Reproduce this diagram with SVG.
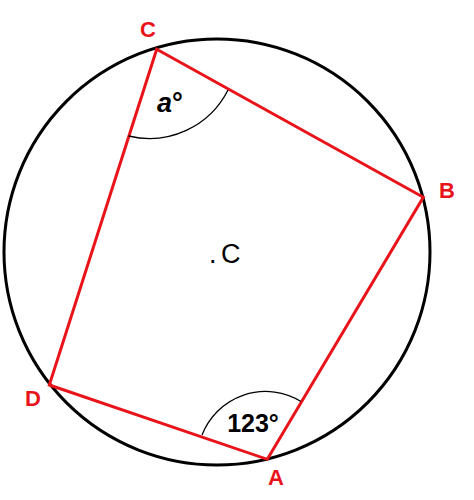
<svg xmlns="http://www.w3.org/2000/svg" width="474" height="500" viewBox="0 0 474 500">
<style>
.circ{fill:none;stroke:#000;stroke-width:3}
.quad{fill:none;stroke:#e8141a;stroke-width:3;stroke-linejoin:miter}
.arc{fill:none;stroke:#000;stroke-width:1.3}
.lbl{font-family:"Liberation Sans",Arial,sans-serif;font-weight:bold;font-size:22px;fill:#e8141a;text-anchor:middle}
.ang{font-family:"Liberation Sans",Arial,sans-serif;font-weight:bold;fill:#000}
.ctr{font-family:"Liberation Sans",Arial,sans-serif;font-size:27px;fill:#000}
</style>
<rect width="474" height="500" fill="#fff"/>
<g id="circle"><circle class="circ" cx="217" cy="252" r="213"/></g>
<g id="connectors">
<polygon class="quad" points="156.7,49.3 423.3,197.3 267.3,459.3 49.3,385"/>
<path class="arc" d="M128.5,136 A88,88 0 0 0 228,90"/>
<path class="arc" d="M202,435 A68,68 0 0 1 301,401.5"/>
</g>
<g id="C"><text class="lbl" x="148" y="37">C</text></g>
<g id="B"><text class="lbl" x="447" y="198">B</text></g>
<g id="A"><text class="lbl" x="276" y="485">A</text></g>
<g id="D"><text class="lbl" x="33" y="406">D</text></g>
<g id="angleC"><text class="ang" x="157" y="112" font-size="27"><tspan font-style="italic">a</tspan>°</text></g>
<g id="angleA"><text class="ang" x="253" y="432" font-size="25" text-anchor="middle">123°</text></g>
<g id="center"><text class="ctr" y="263"><tspan x="209">.</tspan><tspan x="221">C</tspan></text></g>
</svg>
